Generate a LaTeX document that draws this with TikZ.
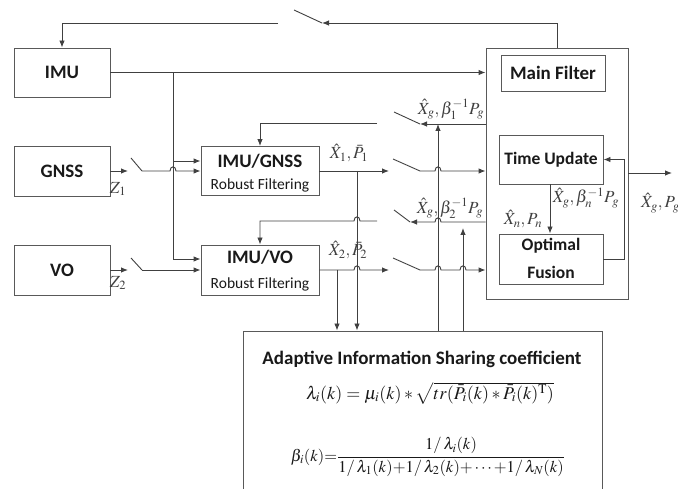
\documentclass[tikz,border=0pt]{standalone}
\usepackage{amsmath}
\usepackage{mathptmx}
\usepackage{fontspec}
\setmainfont{Liberation Serif}
\setsansfont{Carlito}
\usetikzlibrary{arrows.meta}
\begin{document}
\begin{tikzpicture}[x=1pt,y=-1pt,
  wire/.style={draw=black!75, line width=0.9pt},
  arr/.style={wire, -{Latex[length=7pt,width=5.5pt]}},
  box/.style={draw=black!65, line width=0.9pt, inner sep=0pt},
  big/.style={inner sep=0pt, text=black!90, font=\sffamily\bfseries\fontsize{19}{22}\selectfont},
  mid/.style={inner sep=0pt, text=black!90, font=\sffamily\bfseries\fontsize{17.5}{20}\selectfont},
  small/.style={inner sep=0pt, text=black!90, font=\sffamily\fontsize{15.5}{18}\selectfont},
  lbl/.style={inner sep=0pt, text=black!75, font=\fontsize{17}{20}\selectfont},
  eq/.style={inner sep=0pt, text=black!90, font=\fontsize{18}{22}\selectfont},
]
\useasboundingbox (0,0) rectangle (678,489);

% sensor blocks
\node[box, minimum width=96pt, minimum height=49pt] (imu) at (62,72.5) {};
\node[big] (imut) at (imu) {IMU};
\node[box, minimum width=96pt, minimum height=50pt] (gnss) at (62,171) {};
\node[big] (gnsst) at (gnss) {GNSS};
\node[box, minimum width=96pt, minimum height=50pt] (vo) at (62,270) {};
\node[big] (vot) at (vo) {VO};

% local filters
\node[box, minimum width=118pt, minimum height=49pt] (gf) at (260,171) {};
\node[big] (gft) at (260,161) {IMU/GNSS};
\node[small] (gfs) at (260,185) {Robust Filtering};
\node[box, minimum width=118pt, minimum height=50pt] (vf) at (260,270) {};
\node[big] (vft) at (260,257) {IMU/VO};
\node[small] (vfs) at (260,284) {Robust Filtering};

% main filter
\node[box, minimum width=142pt, minimum height=251pt] (mainbox) at (557,173.5) {};
\node[box, minimum width=104pt, minimum height=36pt] (mf) at (553,73) {};
\node[big] (mft) at (mf) {Main Filter};
\node[box, minimum width=104pt, minimum height=49pt] (tu) at (551,159.5) {};
\node[mid] (tut) at (tu) {Time Update};
\node[box, minimum width=104pt, minimum height=50pt] (of) at (551,259) {};
\node[mid] (oft1) at (551,246) {Optimal};
\node[mid] (oft2) at (551,272) {Fusion};

% information sharing block
\node[box, minimum width=359pt, minimum height=178pt] (aisc) at (422.5,420) {};
\node[big] (aisct) at (422,359) {Adaptive Information Sharing coefficient};
\node[eq] (eq1) at (430,393) {$\lambda_i(k)=\mu_i(k)*\sqrt{tr(\bar{P}_i(k)*\bar{P}_i(k)^{\mathrm{T}})}$};
\node[eq, font=\fontsize{16.5}{20}\selectfont] (eq2) at (428,457) {$\beta_i(k){=}\dfrac{1/\,\lambda_i(k)}{1/\,\lambda_1(k){+}1/\,\lambda_2(k){+}\cdots{+}1/\,\lambda_N(k)}$};

% feedback to the IMU through the top switch
\coordinate (tsw) at (322,23);
\coordinate (tin) at (278,23);
\draw[arr] (mainbox.north) |- (tsw);
\draw[wire] (tsw) -- (294,10);
\draw[arr] (tin) -| (imu.north);

% IMU output and its branches
\coordinate (j1) at (173,72.5);
\draw[arr] (imu.east) -- (imu.east -| mainbox.west);
\draw[arr] (j1) |- (vf.west |- 0,259);
\draw[arr] (j1 |- 0,161) -- (gf.west |- 0,161);

% GNSS measurement Z1
\draw[arr] (gnss.east) -- (128,171);
\draw[wire] (131,158) -- (142,171);
\draw[arr] (142,171) -- (170,171) .. controls (170,165.5) and (176,165.5) .. (176,171) -- (gf.west |- 0,171);
\node[lbl] (z1) at (118,189) {$Z_1$};

% VO measurement Z2
\draw[arr] (vo.east) -- (128,270);
\draw[wire] (131,258) -- (142,270);
\draw[arr] (142,270) -- (vf.west |- 0,270);
\node[lbl] (z2) at (118,283) {$Z_2$};

% feedback to IMU/GNSS
\draw[arr] (mainbox.west |- 0,124) -- (420,124);
\draw[wire] (420,124) -- (394,112);
\draw[arr] (377,123) -| (gf.north);
\node[lbl] (fb1) at (451,109) {$\hat{X}_g,\beta_1^{-1}P_g$};

% feedback to IMU/VO
\draw[arr] (mainbox.west |- 0,222) -- (441,222) .. controls (441,216.5) and (435,216.5) .. (435,222) -- (410,222);
\draw[wire] (410,222) -- (394,210);
\draw[arr] (377,221) -- (360,221) .. controls (360,215.5) and (354,215.5) .. (354,221) -| (vf.north);
\node[lbl] (fb2) at (450,208) {$\hat{X}_g,\beta_2^{-1}P_g$};

% IMU/GNSS estimate
\draw[arr] (gf.east) -- (389,171);
\draw[wire] (393,159) -- (420,171);
\draw[arr] (420,171) -- (435,171) .. controls (435,165.5) and (441,165.5) .. (441,171) -- (mainbox.west |- 0,171);
\draw[arr] (357,171) -- (aisc.north -| 357,0);
\node[lbl] (e1) at (349,153) {$\hat{X}_1,\bar{P}_1$};

% IMU/VO estimate
\draw[arr] (vf.east) -- (354,270) .. controls (354,264.5) and (360,264.5) .. (360,270) -- (389,270);
\draw[wire] (393,258) -- (420,270);
\draw[arr] (420,270) -- (435,270) .. controls (435,264.5) and (441,264.5) .. (441,270) -- (460,270) .. controls (460,264.5) and (466,264.5) .. (466,270) -- (mainbox.west |- 0,270);
\draw[arr] (337,270) -- (aisc.north -| 337,0);
\node[lbl] (e2) at (348,250) {$\hat{X}_2,\bar{P}_2$};

% sharing coefficients back to the feedback lines
\draw[arr] (aisc.north -| 438,0) -- (438,124);
\draw[arr] (aisc.north -| 463,0) -- (463,228);

% inside the main filter
\draw[arr] (tu.south -| 550,0) -- (of.north -| 550,0);
\node[lbl] (tuo) at (586,198) {$\hat{X}_g,\beta_n^{-1}P_g$};
\node[lbl] (ofi) at (523,219) {$\hat{X}_n,P_n$};
\draw[arr] (of.east) -- (624,259) |- (tu.east);

% global output
\draw[arr] (mainbox.east |- 0,173) -- (672,173);
\node[lbl, anchor=west] (out) at (641,203) {$\hat{X}_g,P_g$};
\end{tikzpicture}
\end{document}
